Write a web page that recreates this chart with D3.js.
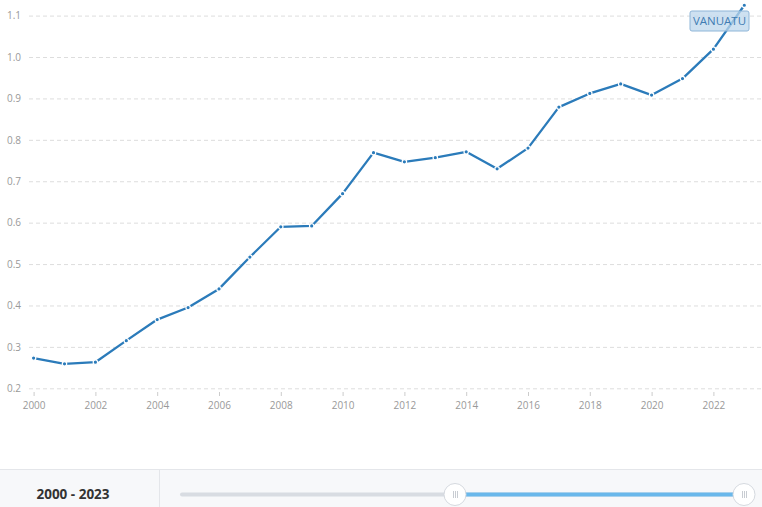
<!DOCTYPE html>
<html><head><meta charset="utf-8">
<script src="https://cdn.jsdelivr.net/npm/d3@7"></script>
<style>
html,body{margin:0;padding:0;background:#fff;}
svg{display:block;font-family:"Open Sans",sans-serif;}
</style></head>
<body>
<svg id="c" width="762" height="507"></svg>
<script>
const years = [2000,2001,2002,2003,2004,2005,2006,2007,2008,2009,2010,2011,2012,2013,2014,2015,2016,2017,2018,2019,2020,2021,2022,2023];
const values = [0.273,0.259,0.263,0.315,0.366,0.395,0.440,0.517,0.590,0.592,0.670,0.769,0.747,0.757,0.771,0.730,0.780,0.879,0.912,0.935,0.908,0.948,1.019,1.125];
const yTicks = [0.2,0.3,0.4,0.5,0.6,0.7,0.8,0.9,1.0,1.1];
const xTicks = [2000,2002,2004,2006,2008,2010,2012,2014,2016,2018,2020,2022];
const seriesName = "VANUATU";
const rangeLabel = "2000 - 2023";

const svg = d3.select("#c");
const x = d3.scaleLinear().domain([2000,2023]).range([33.6,744.3]);
const y = d3.scaleLinear().domain([0.2,1.1]).range([388.3,15.6]);

// grid
const yAxis = d3.axisLeft(y).tickValues(yTicks).tickSize(-733).tickPadding(8)
  .tickFormat(d3.format(".1f"));
const gy = svg.append("g").attr("transform","translate(29,0)").call(yAxis);
gy.select(".domain").remove();
gy.selectAll(".tick line").attr("stroke","#dddddd").attr("stroke-dasharray","4,3").attr("stroke-width",1);
gy.selectAll(".tick text").attr("fill","#999").attr("font-size","10px").attr("font-family","Open Sans").attr("x",-8);

const xAxis = d3.axisBottom(x).tickValues(xTicks).tickFormat(d3.format("d")).tickSize(4).tickPadding(6);
const gx = svg.append("g").attr("transform","translate(0,392)").call(xAxis);
gx.select(".domain").remove();
gx.selectAll(".tick line").attr("stroke","#ccc");
gx.selectAll(".tick text").attr("fill","#999").attr("font-size","10px").attr("font-family","Open Sans");

// line
const data = years.map((yr,i)=>({yr, v: values[i]}));
svg.append("path").datum(data)
  .attr("fill","none").attr("stroke","#2b7bba").attr("stroke-width",2.3)
  .attr("stroke-linejoin","round")
  .attr("d", d3.line().x(d=>x(d.yr)).y(d=>y(d.v)));
svg.append("g").selectAll("circle").data(data).join("circle")
  .attr("cx",d=>x(d.yr)).attr("cy",d=>y(d.v)).attr("r",2.2)
  .attr("fill","#2b7bba").attr("stroke","#fff").attr("stroke-width",1.2);

// label
const lg = svg.append("g");
lg.append("rect").attr("x",690).attr("y",11).attr("width",59).attr("height",20).attr("rx",2)
  .attr("fill","rgba(190,215,236,0.75)").attr("stroke","#8fb6d8").attr("stroke-width",1);
lg.append("text").attr("x",719.5).attr("y",25).attr("text-anchor","middle")
  .attr("font-size","11.5px").attr("fill","#3f7cb3").text(seriesName);

// bottom panel
svg.append("rect").attr("x",0).attr("y",469).attr("width",762).attr("height",38).attr("fill","#f7f8fa");
svg.append("line").attr("x1",0).attr("x2",762).attr("y1",469.5).attr("y2",469.5).attr("stroke","#e4e6ea");
svg.append("line").attr("x1",159.5).attr("x2",159.5).attr("y1",470).attr("y2",507).attr("stroke","#e4e6ea");
svg.append("text").attr("x",73).attr("y",499).attr("text-anchor","middle").attr("font-size","13.5px")
  .attr("font-weight","bold").attr("fill","#333").text(rangeLabel);
const sx = d3.scaleLinear().domain([1960,2023]).range([182,744]);
svg.append("line").attr("x1",sx(1960)).attr("x2",sx(2023)).attr("y1",494.5).attr("y2",494.5)
  .attr("stroke","#d8dce2").attr("stroke-width",4).attr("stroke-linecap","round");
const h1 = 455, h2 = 744;
svg.append("line").attr("x1",h1).attr("x2",h2).attr("y1",494.5).attr("y2",494.5)
  .attr("stroke","#6ab8eb").attr("stroke-width",4);
[h1,h2].forEach(hx=>{
  svg.append("circle").attr("cx",hx).attr("cy",494.5).attr("r",11).attr("fill","#fff").attr("stroke","#d5d9df");
  [-2,0,2].forEach(o=>svg.append("line").attr("x1",hx+o+0.5).attr("x2",hx+o+0.5).attr("y1",491).attr("y2",498).attr("stroke","#c8ccd2"));
});
</script>
</body></html>
